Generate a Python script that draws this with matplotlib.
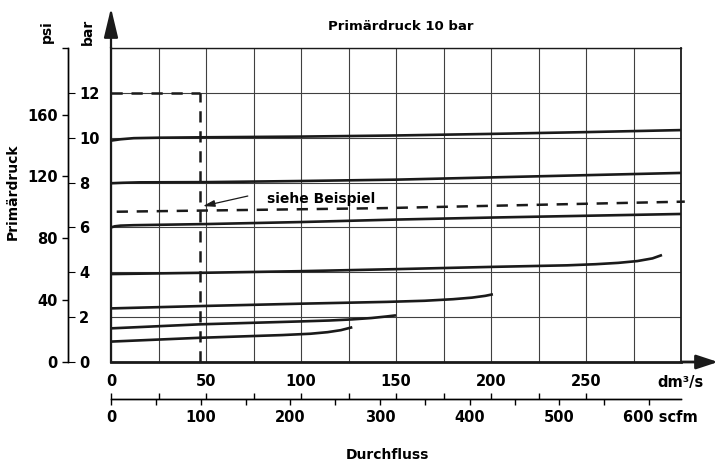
import numpy as np
import matplotlib.pyplot as plt

plt.rcParams['font.family'] = 'DejaVu Sans'
plt.rcParams['font.weight'] = 'bold'

BAR_TO_PSI = 14.5038
DM3S_TO_SCFM = 2.1189

# Kennlinien: Durchfluss (dm3/s) -> Sekundaerdruck (bar)
x_c1 = [0, 5, 12, 25, 50, 100, 150, 200, 250, 300]
y_c1 = [9.87, 9.93, 9.98, 10.0, 10.02, 10.05, 10.1, 10.17, 10.25, 10.34]
x_c2 = [0, 6, 15, 50, 100, 150, 200, 250, 300]
y_c2 = [7.97, 7.99, 8.01, 8.02, 8.07, 8.13, 8.23, 8.33, 8.43]
x_c3 = [0, 2, 5, 12, 50, 100, 150, 200, 250, 300]
y_c3 = [6.0, 6.05, 6.08, 6.1, 6.15, 6.24, 6.35, 6.44, 6.52, 6.6]
x_c4 = [0, 50, 100, 150, 200, 240, 255, 267, 277, 285, 290]
y_c4 = [3.92, 3.98, 4.05, 4.14, 4.24, 4.31, 4.36, 4.42, 4.5, 4.62, 4.77]
x_c5 = [0, 50, 100, 145, 165, 180, 190, 197, 201]
y_c5 = [2.39, 2.5, 2.6, 2.68, 2.73, 2.8, 2.87, 2.95, 3.02]
x_c6 = [0, 47, 100, 115, 127, 137, 145, 150]
y_c6 = [1.5, 1.68, 1.81, 1.85, 1.9, 1.96, 2.03, 2.08]
x_c7 = [0, 47, 90, 105, 114, 121, 127]
y_c7 = [0.91, 1.08, 1.2, 1.26, 1.33, 1.42, 1.55]
curves = [(x_c1, y_c1), (x_c2, y_c2), (x_c3, y_c3), (x_c4, y_c4),
          (x_c5, y_c5), (x_c6, y_c6), (x_c7, y_c7)]

# Beispiel
ex_flow = 47
ex_p1 = 12
ex_x = [3, 143, 302]
ex_y = [6.70, 6.86, 7.15]

dm_ticks = [0, 50, 100, 150, 200, 250, 300]
dm_labels = ['0', '50', '100', '150', '200', '250', 'dm³/s']
scfm_ticks = [0, 100, 200, 300, 400, 500, 600]
scfm_labels = ['0', '100', '200', '300', '400', '500', '']
psi_ticks = [0, 40, 80, 120, 160]
bar_ticks = [0, 2, 4, 6, 8, 10, 12]

fig = plt.figure(figsize=(7.18, 4.67), dpi=100)
ax = fig.add_axes([111/718, 1-362/467, 570/718, 314/467])
ax.set_xlim(0, 300)
ax.set_ylim(0, 14)

ax.set_xticks(dm_ticks)
ax.set_xticklabels(dm_labels)
ax.set_xticks(np.arange(0, 301, 25), minor=True)
ax.set_yticks(np.arange(0, 15, 2))
ax.set_yticklabels([])
ax.tick_params(which='both', length=0)
ax.tick_params(axis='x', labelsize=10.5, pad=9)
ax.grid(which='both', color='#404040', lw=0.8)
ax.set_axisbelow(True)

ax.spines['left'].set_linewidth(1.6)
ax.spines['bottom'].set_linewidth(2.0)
ax.spines['top'].set_linewidth(1.0)
ax.spines['right'].set_linewidth(1.3)
for s in ax.spines.values():
    s.set_color('#1a1a1a')

for cx, cy in curves:
    ax.plot(cx, cy, color='#1a1a1a', lw=1.9, solid_capstyle='butt')

ax.plot([0, ex_flow], [ex_p1, ex_p1], color='#1a1a1a', lw=1.8, dashes=(4.5, 3.5))
ax.plot([ex_flow, ex_flow], [0, ex_p1], color='#1a1a1a', lw=1.8, dashes=(4.5, 3.5))
ax.plot(ex_x, ex_y, color='#1a1a1a', lw=1.8, dashes=(4.5, 3.5), clip_on=False)

ax.annotate('', xy=(48.4, 6.95), xytext=(72, 7.4),
            arrowprops=dict(arrowstyle='-|>,head_length=0.7,head_width=0.2',
                            color='#1a1a1a', lw=0.9, mutation_scale=10,
                            shrinkA=0, shrinkB=0))
ax.text(82, 7.09, 'siehe Beispiel', fontsize=10, va='baseline', ha='left')

# Achsenpfeile
ax.annotate('', xy=(0, 354/314), xytext=(0, 1), xycoords='axes fraction',
            arrowprops=dict(arrowstyle='-|>,head_length=1.0,head_width=0.24',
                            color='#1a1a1a', lw=1.6, mutation_scale=18,
                            shrinkA=0, shrinkB=0))
ax.annotate('', xy=(607/570, 0), xytext=(1, 0), xycoords='axes fraction',
            arrowprops=dict(arrowstyle='-|>,head_length=1.0,head_width=0.33',
                            color='#1a1a1a', lw=2.0, mutation_scale=13,
                            shrinkA=0, shrinkB=0))

# psi / bar Skala links
loc_y = (68 - 111) / 570
psi = ax.secondary_yaxis(loc_y, functions=(lambda b: b * BAR_TO_PSI,
                                            lambda p: p / BAR_TO_PSI))
psi.set_yticks(psi_ticks)
psi.set_yticks([14 * BAR_TO_PSI], minor=True)
psi.tick_params(which='both', length=4, width=1, labelsize=10.5, pad=3.5)
psi.spines['left'].set_linewidth(1.0)

barax = ax.secondary_yaxis(loc_y)
barax.set_alignment('right')
barax.set_yticks(bar_ticks)
barax.tick_params(length=5, width=0.8, labelsize=10.5, pad=3)
barax.spines['right'].set_linewidth(1.0)

# scfm Skala unten
loc_x = (362 - 399) / 314
scfm = ax.secondary_xaxis(loc_x, functions=(lambda d: d * DM3S_TO_SCFM,
                                             lambda s: s / DM3S_TO_SCFM))
scfm.set_xticks(scfm_ticks)
scfm.set_xticklabels(scfm_labels)
scfm.set_xticks(np.arange(50, 600, 100), minor=True)
scfm.tick_params(which='both', length=4.5, width=1, labelsize=10.5, pad=3.5)
scfm.spines['bottom'].set_linewidth(1.0)

dmt = ax.secondary_xaxis(loc_x)
dmt.set_xticks(np.arange(0, 251, 25))
dmt.tick_params(direction='in', length=4, width=1, labelbottom=False)
dmt.spines['bottom'].set_linewidth(1.0)

ax.text((623 - 111) / 570, (362 - 418) / 314, '600 scfm', transform=ax.transAxes,
        fontsize=10.5, ha='left', va='center')

fig.text(401/718, 1-27/467, 'Primärdruck 10 bar', fontsize=9.5, ha='center', va='center')
fig.text(13/718, 1-192/467, 'Primärdruck', fontsize=10, rotation=90, ha='center', va='center')
fig.text(47/718, 1-32/467, 'psi', fontsize=10, rotation=90, ha='center', va='center')
fig.text(88/718, 1-32/467, 'bar', fontsize=10, rotation=90, ha='center', va='center')
fig.text(387/718, 1-455/467, 'Durchfluss', fontsize=10, ha='center', va='center')

fig.savefig('out.png', dpi=100)
